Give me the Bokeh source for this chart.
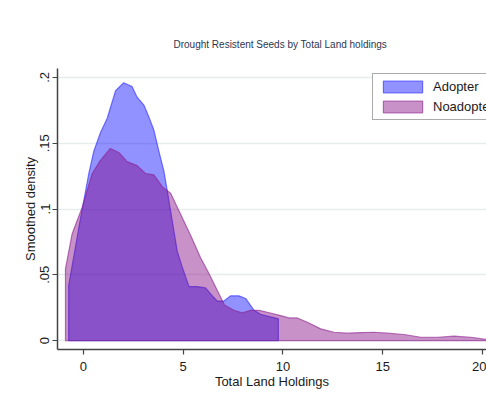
from bokeh.plotting import figure
from bokeh.models import Range1d, FixedTicker, Legend, LegendItem
from bokeh.embed import file_html
from bokeh.resources import INLINE

# ---- data ----
adopter_x = [-0.74, -0.24, 0.27, 0.52, 0.85, 1.19, 1.61, 2.02, 2.44, 2.69, 3.03, 3.28, 3.53, 3.78,
             4.03, 4.20, 4.45, 4.70, 4.95, 5.29, 5.70, 6.12, 6.46, 6.71, 7.04, 7.38, 7.79, 8.13,
             8.55, 8.88, 9.77]
adopter_y = [0.042, 0.085, 0.127, 0.144, 0.158, 0.169, 0.190, 0.196, 0.193, 0.185, 0.179, 0.170,
             0.160, 0.144, 0.129, 0.114, 0.091, 0.068, 0.056, 0.041, 0.041, 0.040, 0.034, 0.030,
             0.030, 0.034, 0.034, 0.032, 0.023, 0.020, 0.0165]

noadopter_x = [-0.90, -0.57, -0.07, 0.44, 0.85, 1.35, 1.77, 2.19, 2.69, 3.11, 3.53, 3.95, 4.37,
               4.87, 5.37, 5.87, 6.29, 6.71, 7.07, 7.54, 7.96, 8.38, 8.80, 9.22, 9.88, 10.30,
               10.72, 11.22, 11.89, 12.56, 13.23, 13.90, 14.57, 15.24, 16.07, 16.91, 17.75,
               18.58, 19.42, 20.20, 21.00]
noadopter_y = [0.0545, 0.081, 0.101, 0.127, 0.137, 0.146, 0.143, 0.136, 0.133, 0.127, 0.126,
               0.117, 0.112, 0.096, 0.080, 0.063, 0.051, 0.038, 0.027, 0.023, 0.021, 0.023,
               0.023, 0.0215, 0.019, 0.0172, 0.0172, 0.0139, 0.0089, 0.0063, 0.0056, 0.0061,
               0.0063, 0.0056, 0.0046, 0.0025, 0.0025, 0.0033, 0.0025, 0.0008, 0.0005]

x_ticks = [0, 5, 10, 15, 20]
y_ticks = [0, 0.05, 0.1, 0.15, 0.2]
y_tick_labels = ["0", ".05", ".1", ".15", ".2"]
series_names = ["Adopter", "Noadopter"]

FONT = "Liberation Sans"

p = figure(width=486, height=399, output_backend="svg", toolbar_location=None,
           x_range=Range1d(-1.3, 20.2), y_range=Range1d(-0.0068, 0.2068),
           min_border_left=57, min_border_right=0, min_border_top=68, min_border_bottom=50,
           background_fill_color="white", border_fill_color="white")
p.outline_line_color = None

p.title.text = "Drought Resistent Seeds  by Total Land holdings"
p.title.text_font = FONT
p.title.text_font_size = "10px"
p.title.text_font_style = "normal"
p.title.text_color = "#2e3650"
p.title.align = "left"
p.title.offset = 116
p.title.standoff = 33
p.title.vertical_align = "top"


def closed(xs, ys):
    return [xs[0]] + list(xs) + [xs[-1]], [0] + list(ys) + [0]


ax, ay = closed(adopter_x, adopter_y)
nx, ny = closed(noadopter_x, noadopter_y)

r1 = p.patch(ax, ay, fill_color=(0, 0, 255), fill_alpha=0.43,
             line_color=(40, 40, 255), line_alpha=0.6, line_width=1.2)
r2 = p.patch(nx, ny, fill_color=(128, 0, 128), fill_alpha=0.43,
             line_color=(140, 30, 140), line_alpha=0.6, line_width=1.2)

legend = Legend(items=[LegendItem(label=series_names[0], renderers=[r1]),
                       LegendItem(label=series_names[1], renderers=[r2])],
                location=(315, 229))
legend.glyph_width = 49
legend.glyph_height = 15
legend.label_height = 15
legend.spacing = 5
legend.padding = 5
legend.margin = 0
legend.label_standoff = 6
legend.label_text_font = FONT
legend.label_text_font_size = "13px"
legend.label_text_color = "#1a1a1a"
legend.border_line_color = "#555555"
legend.border_line_width = 1.5
legend.background_fill_color = "white"
legend.background_fill_alpha = 1.0
p.add_layout(legend)

# axes
for ax_ in (p.xaxis[0], p.yaxis[0]):
    ax_.axis_line_color = "#444444"
    ax_.axis_line_width = 1.5
    ax_.major_tick_line_color = "#444444"
    ax_.major_tick_line_width = 1.2
    ax_.major_tick_out = 5
    ax_.major_tick_in = 0
    ax_.minor_tick_line_color = None
    ax_.major_label_text_font = FONT
    ax_.major_label_text_font_size = "13px"
    ax_.major_label_text_color = "#1a1a1a"
    ax_.axis_label_text_font = FONT
    ax_.axis_label_text_font_size = "13px"
    ax_.axis_label_text_font_style = "normal"
    ax_.axis_label_text_color = "#1a1a1a"

p.xaxis.ticker = FixedTicker(ticks=x_ticks)
p.xaxis.axis_label = "Total Land Holdings"
p.xaxis.major_label_standoff = 7
p.xaxis.axis_label_standoff = 0

p.yaxis.ticker = FixedTicker(ticks=y_ticks)
p.yaxis.major_label_overrides = {t: l for t, l in zip(y_ticks, y_tick_labels)}
p.yaxis.major_label_orientation = "vertical"
p.yaxis.major_label_standoff = 3
p.yaxis.axis_label = "Smoothed density"
p.yaxis.axis_label_standoff = 0

p.xgrid.grid_line_color = None
p.ygrid.grid_line_color = "#e6eded"
p.ygrid.grid_line_width = 1.5

open("out.html", "w").write(file_html(p, INLINE))
